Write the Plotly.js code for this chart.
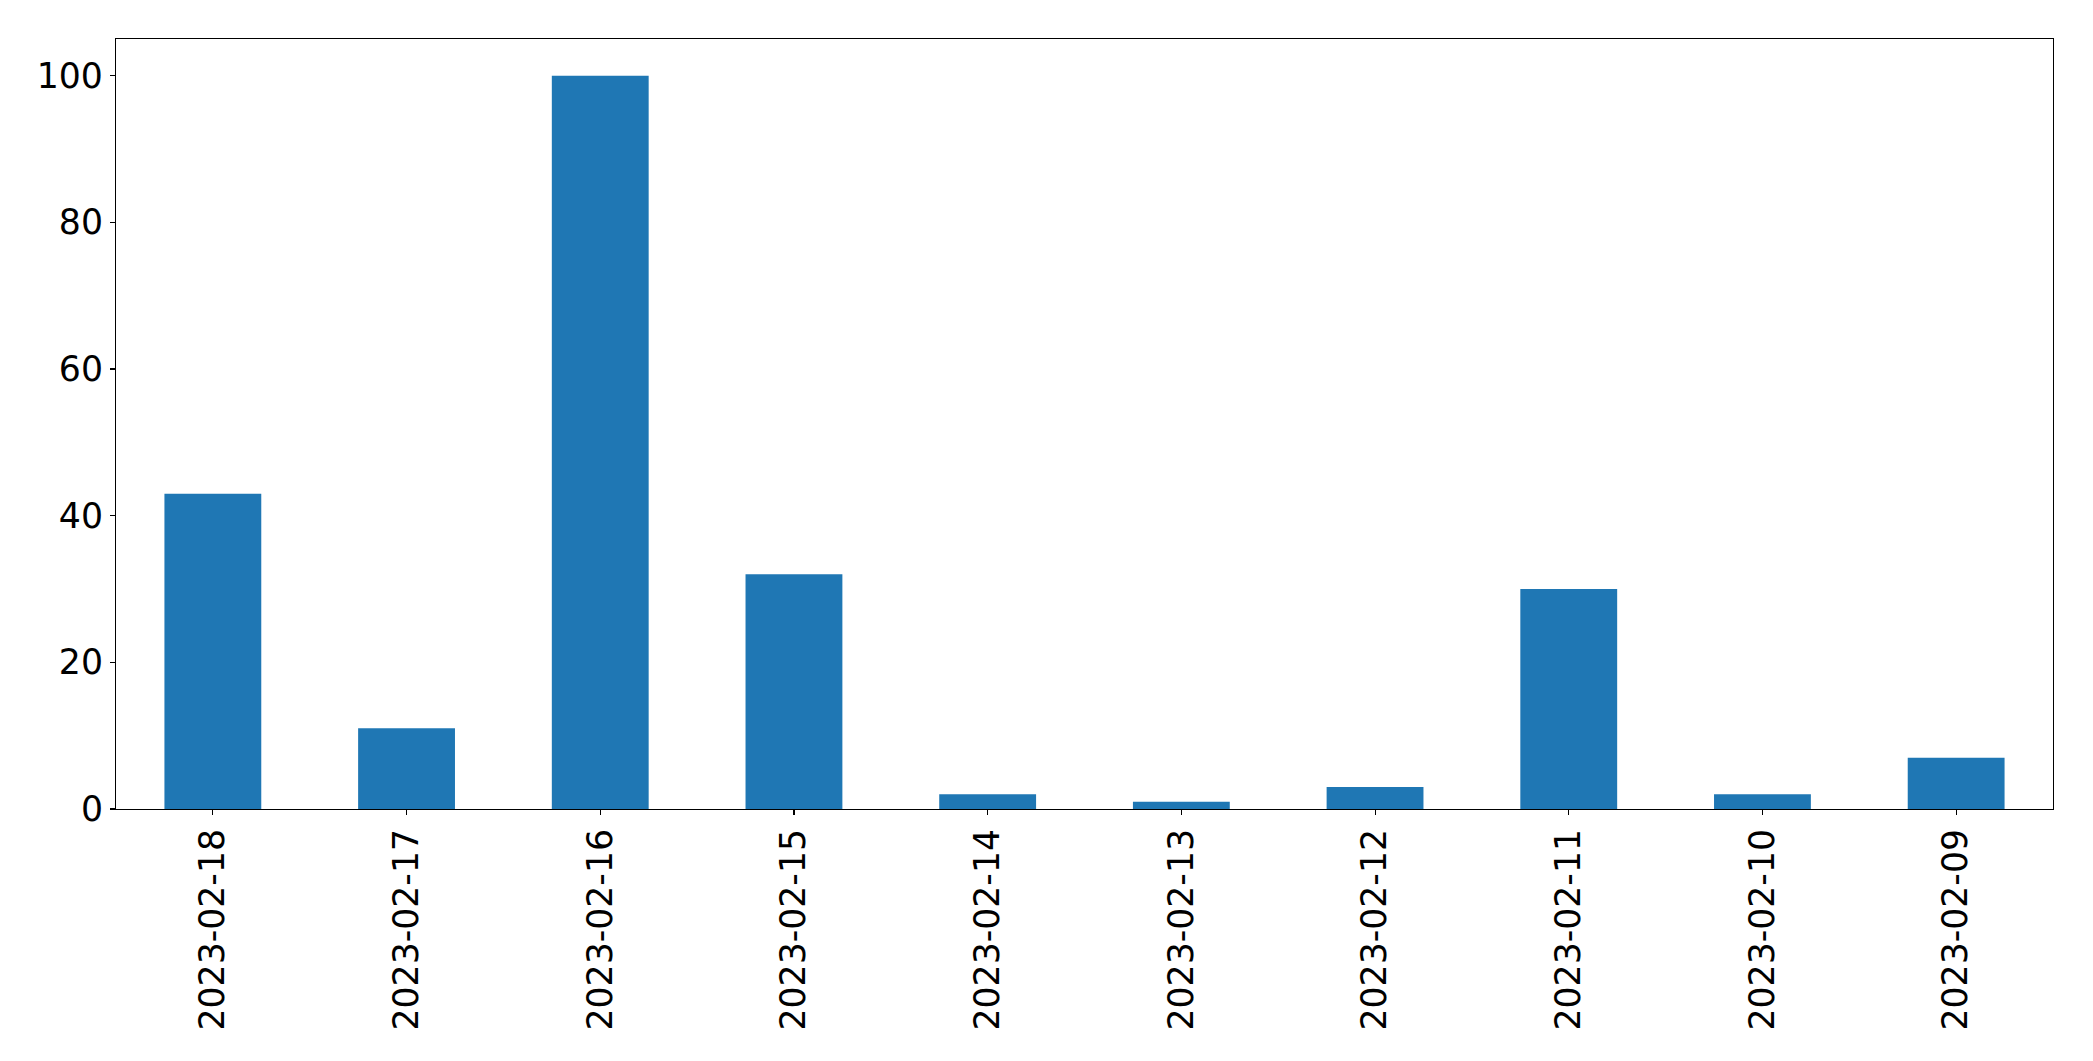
<!DOCTYPE html>
<html>
<head>
<meta charset="utf-8">
<script src="https://cdn.plot.ly/plotly-3.0.1.min.js"></script>
<style>html,body{margin:0;padding:0;background:#fff;}#chart{width:2093px;height:1061px;}</style>
</head>
<body>
<div id="chart"></div>
<script>
const categories = ["2023-02-18","2023-02-17","2023-02-16","2023-02-15","2023-02-14","2023-02-13","2023-02-12","2023-02-11","2023-02-10","2023-02-09"];
const values = [43, 11, 100, 32, 2, 1, 3, 30, 2, 7];
const yTickVals = [0, 20, 40, 60, 80, 100];

const trace = {
  type: 'bar',
  x: categories,
  y: values,
  width: 0.5,
  marker: {color: '#1f77b4', line: {width: 0}},
  hoverinfo: 'x+y'
};

const font = {family: 'DejaVu Sans, sans-serif', size: 34.7, color: '#000'};

const layout = {
  width: 2093, height: 1061,
  margin: {l: 116, r: 40, t: 39, b: 252, pad: 0},
  paper_bgcolor: '#fff', plot_bgcolor: '#fff',
  showlegend: false,
  font: font,
  xaxis: {
    type: 'category',
    range: [-0.5, categories.length - 0.5],
    tickangle: -90,
    ticks: 'outside', ticklen: 5, tickwidth: 1.1, tickcolor: '#000',
    showline: true, linecolor: '#000', linewidth: 1.1, mirror: true,
    showgrid: false, zeroline: false,
    tickfont: font,
    automargin: false
  },
  yaxis: {
    range: [0, 105],
    tickvals: yTickVals,
    ticks: 'outside', ticklen: 5, tickwidth: 1.1, tickcolor: '#000',
    showline: true, linecolor: '#000', linewidth: 1.1, mirror: true,
    showgrid: false, zeroline: false,
    tickfont: font,
    automargin: false
  },
  bargap: 0.5
};

Plotly.newPlot('chart', [trace], layout, {displayModeBar: false, staticPlot: true});
</script>
</body>
</html>
